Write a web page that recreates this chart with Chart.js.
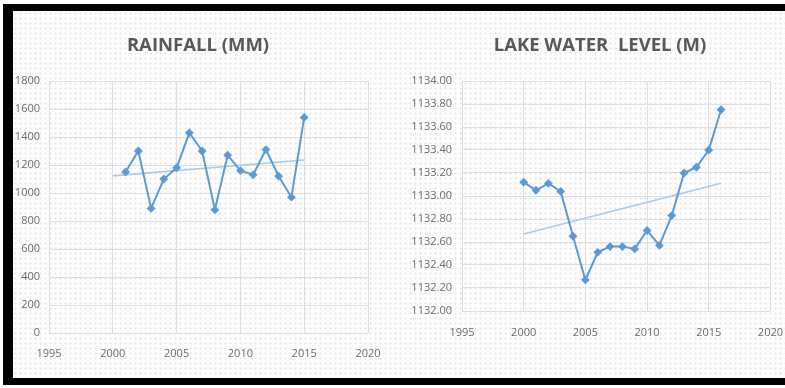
<!DOCTYPE html>
<html lang="en">
<head>
<meta charset="UTF-8">
<title>Rainfall and Lake Water Level</title>
<script src="https://cdn.jsdelivr.net/npm/chart.js"></script>
<style>
  html, body { margin: 0; padding: 0; }
  body {
    width: 785px; height: 388px; position: relative; overflow: hidden;
    background-color: #ffffff;
  }
  #frame {
    position: absolute; left: 3px; top: 4px; width: 800px; height: 367px;
    border-top: 7px solid #000; border-left: 10px solid #000; border-bottom: 7px solid #000;
    background-color: #fdfdfd;
    background-image: radial-gradient(#e4e4e4 0.9px, transparent 1.1px);
    background-size: 5px 5px;
  }
  canvas { position: absolute; }
  #rainChart { left: 13px; top: 11px; }
  #lakeChart { left: 393px; top: 11px; }
</style>
</head>
<body>
<div id="frame"></div>
<canvas id="rainChart" width="380" height="370"></canvas>
<canvas id="lakeChart" width="392" height="370"></canvas>

<script>
// data
const yearTicks = [1995, 2000, 2005, 2010, 2015, 2020];

const rainYears = [2001, 2002, 2003, 2004, 2005, 2006, 2007, 2008, 2009, 2010, 2011, 2012, 2013, 2014, 2015];
const rainfall  = [1150, 1300, 890, 1100, 1180, 1430, 1300, 880, 1270, 1160, 1130, 1310, 1120, 970, 1540];
const rainTrendYears = [2000, 2015];
const rainTrend = [1122, 1236];
const rainTicks = [0, 200, 400, 600, 800, 1000, 1200, 1400, 1600, 1800];

const lakeYears = [2000, 2001, 2002, 2003, 2004, 2005, 2006, 2007, 2008, 2009, 2010, 2011, 2012, 2013, 2014, 2015, 2016];
const lakeLevel = [1133.12, 1133.05, 1133.11, 1133.04, 1132.65, 1132.27, 1132.51, 1132.56, 1132.56, 1132.54,
                   1132.70, 1132.57, 1132.83, 1133.20, 1133.25, 1133.40, 1133.75];
const lakeTrendYears = [2000, 2016];
const lakeTrend = [1132.67, 1133.11];
const lakeTicks = [1132.0, 1132.2, 1132.4, 1132.6, 1132.8, 1133.0, 1133.2, 1133.4, 1133.6, 1133.8, 1134.0];

const lineBlue = '#5b9bd5';
const trendBlue = '#a9cbe9';
const labelGrey = '#6b6b6b';
const tickFont = { family: "'Liberation Sans Narrow', 'Open Sans', sans-serif", size: 11 };

function pairs(xs, ys) {
    return xs.map((x, i) => ({ x: x, y: ys[i] }));
}

// title is centred on the whole box in the original, not on the padded area
function titleShift(dx) {
    return {
        id: 'titleShift',
        afterLayout(chart) {
            const t = chart.titleBlock;
            if (t) { t.left += dx; t.right += dx; }
        }
    };
}

function makeChart(id, title, xsMain, ysMain, xsTrend, ysTrend, yTicks, yFmt, yWidth, xHeight, padRight, tickPadY, xLabelDrop, dx) {
    const ctx = document.getElementById(id).getContext('2d');
    return new Chart(ctx, {
        type: 'line',
        data: {
            datasets: [
                {
                    data: pairs(xsMain, ysMain),
                    borderColor: lineBlue,
                    backgroundColor: lineBlue,
                    borderWidth: 2,
                    pointStyle: 'rectRot',
                    pointRadius: 3,
                    tension: 0
                },
                {
                    data: pairs(xsTrend, ysTrend),
                    borderColor: trendBlue,
                    borderWidth: 1.6,
                    pointRadius: 0,
                    tension: 0
                }
            ]
        },
        options: {
            responsive: false,
            animation: false,
            layout: { padding: { left: 0, right: padRight, top: 0, bottom: 0 } },
            plugins: {
                legend: { display: false },
                tooltip: { enabled: false },
                title: {
                    display: true,
                    text: title,
                    color: '#595959',
                    font: { family: "'Open Sans', sans-serif", size: 18.5, weight: 'bold', lineHeight: 1.2 },
                    padding: { top: 24, bottom: 23.8 }
                }
            },
            scales: {
                x: {
                    type: 'linear',
                    min: yearTicks[0],
                    max: yearTicks[yearTicks.length - 1],
                    afterBuildTicks: s => { s.ticks = yearTicks.map(v => ({ value: v })); },
                    afterFit: s => { s.height = xHeight; },
                    grid: { color: '#dedede', drawTicks: true, tickLength: xLabelDrop, tickColor: 'transparent' },
                    border: { display: false },
                    ticks: { color: labelGrey, font: tickFont, padding: 2, maxRotation: 0, callback: v => String(v) }
                },
                y: {
                    min: yTicks[0],
                    max: yTicks[yTicks.length - 1],
                    afterBuildTicks: s => { s.ticks = yTicks.map(v => ({ value: v })); },
                    afterFit: s => { s.width = yWidth; },
                    grid: { color: '#dedede', drawTicks: false },
                    border: { display: false },
                    ticks: { color: labelGrey, font: tickFont, padding: tickPadY, callback: yFmt }
                }
            }
        },
        plugins: [titleShift(dx)]
    });
}

makeChart('rainChart', 'RAINFALL (MM)', rainYears, rainfall, rainTrendYears, rainTrend,
          rainTicks, v => String(v), 36, 48, 25, 9, 12, 7.5);
makeChart('lakeChart', 'LAKE WATER  LEVEL (M)', lakeYears, lakeLevel, lakeTrendYears, lakeTrend,
          lakeTicks, v => v.toFixed(2), 69, 70, 13, 10, 13, 17.5);
</script>
</body>
</html>
